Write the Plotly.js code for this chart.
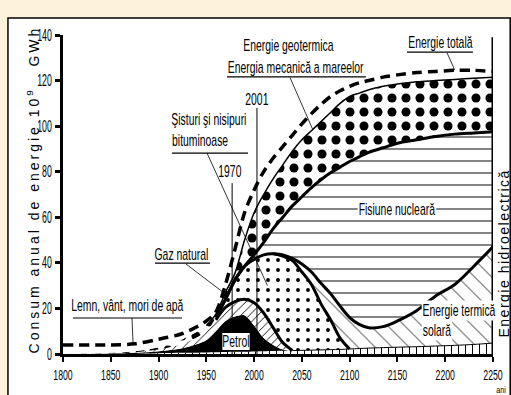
<!DOCTYPE html>
<html><head><meta charset="utf-8">
<script src="https://cdn.plot.ly/plotly-3.0.1.min.js"></script>
<style>html,body{margin:0;padding:0;background:#fdf2dc;} #chart{width:511px;height:395px;}</style>
</head><body><div id="chart"></div>
<script>
// ---- data (cumulative boundaries, 10^9 GWh) ----
const years      = [1800,1850,1875,1900,1925,1950,1960,1970,1980,1990,2000,2010,2020,2030,2040,2050,2060,2070,2080,2090,2100,2110,2120,2135,2150,2170,2190,2210,2230,2250];
const hydroTop   = [0,0,0,0.3,0.5,0.7,0.8,0.9,1,1,1.1,1.2,1.3,1.4,1.5,1.6,1.7,1.8,1.9,2.0,2.2,2.4,2.6,2.8,3.0,3.2,3.5,3.8,4.2,4.8];
const petrolTop  = [0,0.2,0.5,1.2,2.5,6,10,14.5,16.5,17,12.5,7,4,2,1.5,1.6,1.7,1.8,1.9,2.0,2.2,2.4,2.6,2.8,3.0,3.2,3.5,3.8,4.2,4.8];
const gasTop     = [0,0.3,0.8,2,4.5,10,15,20.5,23,24,22.5,18,11.5,5,1.5,1.6,1.7,1.8,1.9,2.0,2.2,2.4,2.6,2.8,3.0,3.2,3.5,3.8,4.2,4.8];
const shaleTop   = [0,0.3,0.8,2,4.5,10,16,24,32.5,38.5,41.5,43.5,44,43,41,36,30.5,22,15,7,2.2,2.4,2.6,2.8,3.0,3.2,3.5,3.8,4.2,4.8];
const solarTop   = [0,0.3,0.8,2,4.5,10,16,24,32.5,38.5,41.5,43.5,44,43.5,42,39.5,36,31,26.5,21,16,13,11.5,12,14.5,19,25.5,30.5,38.5,47];
const nuclearTop = [0,0.3,0.8,2,4.5,10,16,24,32.5,38.5,43.5,49,55,60,65,69,73,76.5,79.5,82,84.5,86.5,88.5,90.5,92.5,94,95.5,96.5,97,97.5];
const coalTop    = [0,0.5,1.2,3,6.5,12.5,17.5,27,35.5,50,62,70,77,83,89,94,98,102,106,110,113,114.5,116,117.5,118.5,119.5,120,120.5,121,121.5];
const totalTop   = [4,4,4.5,6.5,9,14.5,18.5,30.5,46,62,72,80,86,91,96,101,105.5,109.5,113,115.5,117.5,119,120,121.5,122.5,123.5,124,124.5,124.5,124];
const xTicks     = [1800,1850,1900,1950,2000,2050,2100,2150,2200,2250];
const yTicks     = [0,20,40,60,80,100,120,140];

const FONT = "'Liberation Sans', Arial, sans-serif";

function seg(arr, a, b) {
  const x = [], y = [];
  years.forEach((yr, i) => { if (yr >= a && yr <= b) { x.push(yr); y.push(arr[i]); } });
  return {x, y};
}
const LS = {shape: 'spline', smoothing: 0.9};
function fillTr(y, fill, pat, fc) {
  const t = {x: years, y: y, mode: 'lines', fill: fill, line: Object.assign({width: 0, color: 'rgba(0,0,0,0)'}, LS),
             hoverinfo: 'skip', showlegend: false, fillcolor: fc || '#ffffff'};
  if (pat) t.fillpattern = Object.assign({fgcolor: '#000', bgcolor: '#ffffff'}, pat);
  return t;
}
function lineTr(arr, a, b, w, dash) {
  const s = seg(arr, a, b);
  return {x: s.x, y: s.y, mode: 'lines', line: Object.assign({width: w, color: '#000', dash: dash || 'solid'}, LS),
          hoverinfo: 'skip', showlegend: false};
}

const traces = [
  fillTr(hydroTop, 'tozeroy', {shape: '|', size: 7, solidity: 0.15}),
  fillTr(petrolTop, 'tonexty', null, '#000000'),
  fillTr(gasTop, 'tonexty', {shape: '/', size: 6, solidity: 0.15}),
  fillTr(shaleTop, 'tonexty', {shape: '.', size: 10, solidity: 0.12}),
  fillTr(solarTop, 'tonexty', {shape: '\\', size: 12, solidity: 0.07}),
  fillTr(nuclearTop, 'tonexty', {shape: '-', size: 12, solidity: 0.08}),
  fillTr(coalTop, 'tonexty', {shape: '.', size: 14, solidity: 0.33}),
  fillTr(totalTop, 'tonexty', null, '#ffffff'),
  lineTr(hydroTop, 2040, 2250, 1),
  lineTr(gasTop, 1960, 2040, 3),
  lineTr(shaleTop, 1960, 2100, 3),
  lineTr(solarTop, 2020, 2250, 3),
  lineTr(nuclearTop, 1960, 2250, 3),
  lineTr(coalTop, 1950, 2250, 1.5),
  lineTr(totalTop, 1800, 2250, 3.5, '10px,6px')
];

function ln(x0, y0, x1, y1, w) {
  return {type: 'line', xref: 'x', yref: 'y', x0, y0, x1, y1, line: {color: '#000', width: w || 1}};
}
const shapes = [
  {type: 'rect', xref: 'paper', yref: 'paper', x0: -0.128, x1: 1.04, y0: -0.135, y1: 1.053, layer: 'below',
   fillcolor: '#ffffff', line: {color: '#000', width: 1.5}},
  ln(2250, 0, 2250, 139, 3),
  ln(1977, 0, 1977, 75, 1),
  ln(2003, 0, 2003, 108, 1),
  ln(1971.6, 121.6, 2117, 121.6, 1.2), ln(2037.6, 121.3, 2061.6, 98.3, 0.8),
  ln(2160, 132.5, 2229, 132.5, 1.2), ln(2202, 132.1, 2210, 124.6, 0.8),
  ln(1914, 88.2, 1993.6, 88.2, 1.2), ln(1950.7, 88.2, 2014, 30, 0.8),
  ln(1896.3, 39.9, 1953.8, 39.9, 1.2), ln(1928.7, 39.5, 1968.5, 26.8, 0.8),
  ln(1810.5, 15.8, 1924.5, 15.8, 1.2), ln(1872.2, 15.8, 1873.3, 5, 0.8)
];

function ann(text, x, y, opts) {
  return Object.assign({text, x, y, xref: 'x', yref: 'y', showarrow: false, xanchor: 'center', yanchor: 'middle',
    font: {family: FONT, size: 16, color: '#000'}}, opts || {});
}
const annotations = [
  ann('Energie geotermica', 2035.5, 135.6),
  ann('Energia mecanică a mareelor', 2043.8, 125.6),
  ann('Energie totală', 2195, 136.8),
  ann('2001', 2003, 111.8),
  ann('Şisturi şi nisipuri', 1952.3, 102.7),
  ann('bituminoase', 1943.4, 93.9),
  ann('1970', 1974.8, 80),
  ann('Gaz natural', 1924, 43.6),
  ann('Lemn, vânt, mori de apă', 1867.5, 21.5),
  ann('Petrol', 1981, 5.3, {bgcolor: '#ffffff', bordercolor: '#000', borderwidth: 1, borderpad: 0}),
  ann('Fisiune nucleară', 2150, 63.2, {bgcolor: '#ffffff'}),
  ann('Energie termică', 2213.9, 19.3, {bgcolor: '#ffffff'}),
  ann('solară', 2190.9, 10.5, {bgcolor: '#ffffff'}),
  {text: 'Energie hidroelectrică', xref: 'paper', yref: 'paper', x: 1.0256, y: 0.3166, textangle: -90,
   xanchor: 'center', yanchor: 'middle', showarrow: false, font: {family: FONT, size: 14, color: '#000'}},
  {text: 'Consum anual de energie 10<sup>9</sup>\u00a0\u00a0\u00a0GWh', xref: 'paper', yref: 'paper', x: -0.07, y: 0.517,
   xanchor: 'center', yanchor: 'middle', textangle: -90, showarrow: false, font: {family: FONT, size: 14, color: '#000'}},
  {text: 'ani', xref: 'paper', yref: 'paper', x: 1.019, y: -0.113, xanchor: 'center', yanchor: 'middle', showarrow: false,
   font: {family: FONT, size: 9, color: '#000'}}
];

const layout = {
  width: 511, height: 395,
  margin: {l: 63, r: 18, t: 35, b: 41},
  paper_bgcolor: '#fdf2dc', plot_bgcolor: '#ffffff',
  showlegend: false,
  xaxis: {range: [1800, 2250], tickvals: xTicks, ticktext: xTicks.map(String), ticks: 'outside', ticklen: 5, tickwidth: 2,
          tickcolor: '#000', showline: true, linewidth: 3, linecolor: '#000', showgrid: false, zeroline: false,
          tickfont: {family: FONT, size: 15, color: '#000'}},
  yaxis: {range: [0, 140], tickvals: yTicks, ticktext: yTicks.map(String), ticks: 'outside', ticklen: 5, tickwidth: 3,
          tickcolor: '#000', showline: true, linewidth: 3, linecolor: '#000', showgrid: false, zeroline: false,
          tickfont: {family: FONT, size: 16, color: '#000'}},
  shapes, annotations
};

function squeeze(el, s, mode) {
  if (!el) return;
  const bb = el.getBBox();
  const cx = mode === 'right' ? bb.x + bb.width : bb.x + bb.width / 2;
  const orig = el.getAttribute('transform') || '';
  el.setAttribute('transform', orig + ' translate(' + cx + ',0) scale(' + s + ',1) translate(' + (-cx) + ',0)');
}

Plotly.newPlot('chart', traces, layout, {staticPlot: true, displayModeBar: false}).then(() => {
  document.querySelectorAll('g.annotation').forEach(a => {
    const t = a.querySelector('text.annotation-text');
    if (!t) return;
    const s = t.textContent;
    if (s.indexOf('Consum') === 0) { t.style.letterSpacing = '3px'; return; }
    if (s.indexOf('Energie hidro') === 0) { t.style.letterSpacing = '1.5px'; return; }
    if (s === 'ani') { squeeze(t, 0.8, 'center'); return; }
    squeeze(a.querySelector('g.annotation-text-g > g'), 0.65, 'center');
  });
  document.querySelectorAll('g.xtick text').forEach(t => squeeze(t, 0.58, 'center'));
  document.querySelectorAll('g.ytick text').forEach(t => squeeze(t, 0.55, 'right'));
});
</script></body></html>
